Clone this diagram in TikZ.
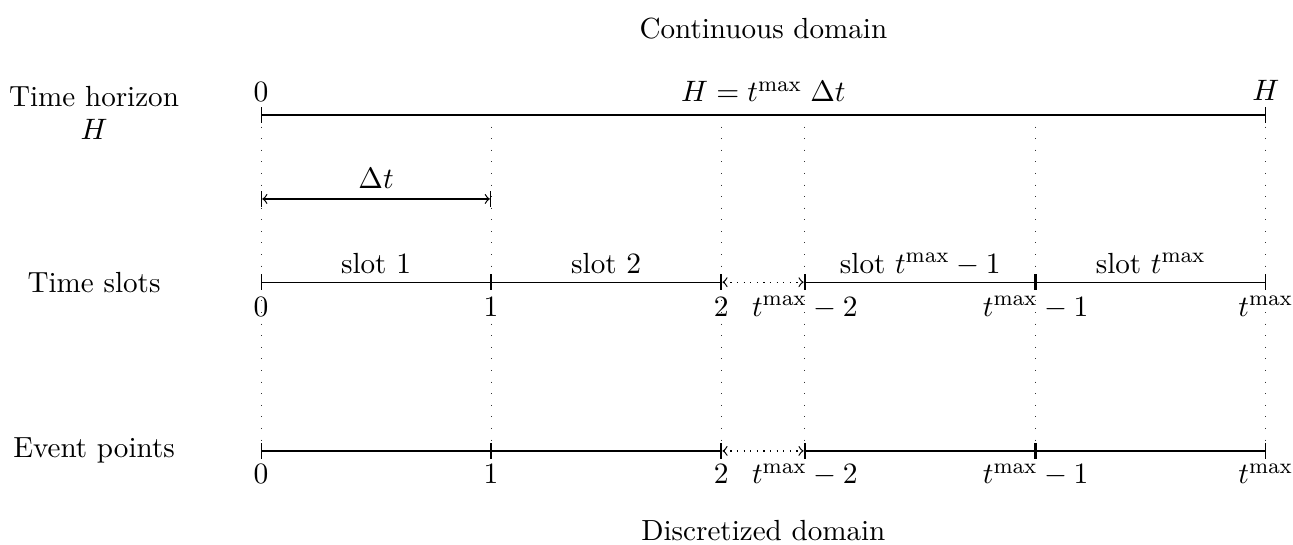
\documentclass[tikz,border=0pt]{standalone}
\begin{document}
\begin{tikzpicture}[
  font=\fontsize{10.8}{12.2}\selectfont,
  axis/.style={|-|, line width=0.45pt},
  gap/.style={|<->|, dotted, line width=0.45pt},
  span/.style={|<->|, line width=0.45pt},
  guide/.style={loosely dotted, line width=0.3pt, black!80},
  rowlabel/.style={align=center},
  ticklabel/.style={anchor=base},
  toplabel/.style={anchor=base},
]
\useasboundingbox (-3.403,1.499) rectangle (13.455,-5.606);

% tick positions along the time axis
\def\xa{0}\def\xb{3}\def\xc{6}\def\xd{7.09}\def\xe{10.1}\def\xf{13.1}
\def\yh{0}\def\yd{-1.095}\def\ys{-2.18}\def\ye{-4.38}

% time horizon
\coordinate (h0) at (\xa,\yh);
\coordinate (hH) at (\xf,\yh);
% step width
\coordinate (d0) at (\xa,\yd);
\coordinate (d1) at (\xb,\yd);
% time slots
\coordinate (s0) at (\xa,\ys);
\coordinate (s1) at (\xb,\ys);
\coordinate (s2) at (\xc,\ys);
\coordinate (s3) at (\xd,\ys);
\coordinate (s4) at (\xe,\ys);
\coordinate (s5) at (\xf,\ys);
% event points
\coordinate (e0) at (\xa,\ye);
\coordinate (e1) at (\xb,\ye);
\coordinate (e2) at (\xc,\ye);
\coordinate (e3) at (\xd,\ye);
\coordinate (e4) at (\xe,\ye);
\coordinate (e5) at (\xf,\ye);
% upper ends of the guide lines
\coordinate (g1) at (\xb,\yh);
\coordinate (g2) at (\xc,\yh);
\coordinate (g3) at (\xd,\yh);
\coordinate (g4) at (\xe,\yh);

% vertical guides
\draw[guide] (h0) -- (e0);
\draw[guide] (g1) -- (e1);
\draw[guide] (g2) -- (e2);
\draw[guide] (g3) -- (e3);
\draw[guide] (g4) -- (e4);
\draw[guide] (hH) -- (e5);

% headings
\node[anchor=base] (cont) at (6.55,0.991) {Continuous domain};
\node[anchor=base] (disc) at (6.55,-5.554) {Discretized domain};

% row labels
\node[rowlabel] (lh) at (-2.177,0.03) {Time horizon\\$H$};
\node[rowlabel] (ls) at (-2.177,\ys) {Time slots};
\node[rowlabel] (le) at (-2.177,\ye) {Event points};

% horizon
\draw[axis] (h0) -- (hH);
\node[toplabel] (th0) at (\xa,0.17) {$0$};
\node[toplabel] (thm) at (6.55,0.17) {$H = t^{\max}\;\Delta t$};
\node[toplabel] (thH) at (\xf,0.19) {$H$};

% step width
\draw[span] (d0) -- (d1);
\node[toplabel] (td) at (1.5,\yd+0.13) {$\Delta t$};

% slots
\draw[axis] (s0) -- (s1);
\draw[axis] (s1) -- (s2);
\draw[gap] (s2) -- (s3);
\draw[axis] (s3) -- (s4);
\draw[axis] (s4) -- (s5);
\node[toplabel] (sl1) at (1.5,\ys+0.117) {slot $1$};
\node[toplabel] (sl2) at (4.5,\ys+0.117) {slot $2$};
\node[toplabel] (sl3) at (8.595,\ys+0.117) {slot $t^{\max}-1$};
\node[toplabel] (sl4) at (11.6,\ys+0.117) {slot $t^{\max}$};
\node[ticklabel] (sn0) at (\xa,\ys-0.45) {$0$};
\node[ticklabel] (sn1) at (\xb,\ys-0.45) {$1$};
\node[ticklabel] (sn2) at (\xc,\ys-0.45) {$2$};
\node[ticklabel] (sn3) at (\xd,\ys-0.45) {$t^{\max}-2$};
\node[ticklabel] (sn4) at (\xe,\ys-0.45) {$t^{\max}-1$};
\node[ticklabel] (sn5) at (\xf,\ys-0.45) {$t^{\max}$};

% event points
\draw[axis] (e0) -- (e1);
\draw[axis] (e1) -- (e2);
\draw[gap] (e2) -- (e3);
\draw[axis] (e3) -- (e4);
\draw[axis] (e4) -- (e5);
\node[ticklabel] (en0) at (\xa,\ye-0.43) {$0$};
\node[ticklabel] (en1) at (\xb,\ye-0.43) {$1$};
\node[ticklabel] (en2) at (\xc,\ye-0.43) {$2$};
\node[ticklabel] (en3) at (\xd,\ye-0.43) {$t^{\max}-2$};
\node[ticklabel] (en4) at (\xe,\ye-0.43) {$t^{\max}-1$};
\node[ticklabel] (en5) at (\xf,\ye-0.43) {$t^{\max}$};
\end{tikzpicture}
\end{document}
